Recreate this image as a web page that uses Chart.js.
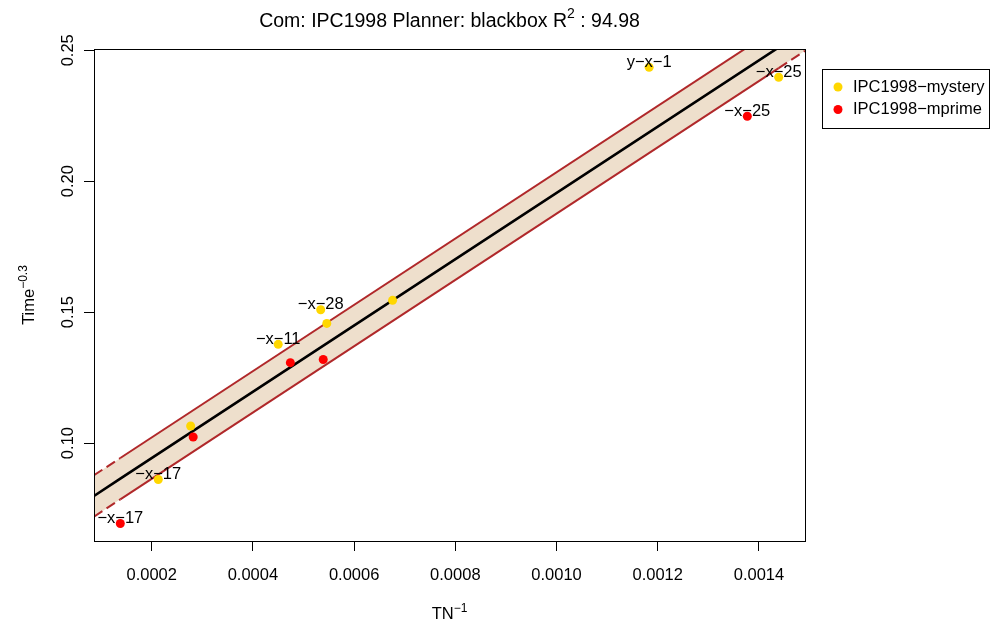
<html lang="en">
<head>
  <meta charset="UTF-8">
  <title>Chart</title>
  <script src="https://cdn.jsdelivr.net/npm/chart.js@4.4.1/dist/chart.umd.min.js"></script>
  <style>
    body { margin: 0; background: #fff; }
    .wrap { position: relative; width: 990px; height: 626px; }
  </style>
</head>
<body>

  <div class="wrap"><canvas id="chart" width="990" height="626"></canvas></div>

  <script>
    // values
    var mysteryX = [0.001183, 0.001439, 0.000676, 0.000546, 0.000534, 0.000450, 0.000277, 0.000213];
    var mysteryY = [0.2435, 0.2397, 0.1545, 0.1457, 0.1509, 0.1377, 0.1065, 0.0861];
    var mysteryLabels = ['y−x−1', '−x−25', '', '', '−x−28', '−x−11', '', '−x−17'];

    var mprimeX = [0.001377, 0.000474, 0.000539, 0.000282, 0.000138];
    var mprimeY = [0.2248, 0.1307, 0.1319, 0.1023, 0.0693];
    var mprimeLabels = ['−x−25', '', '', '', '−x−17'];

    // fitted line and band, at axis ends and data range ends
    var fitX = [0.000086, 0.000138, 0.001439, 0.001491];
    var fitY = [0.0798, 0.0864, 0.2511, 0.2577];
    var upperY = [0.0877, 0.0943, 0.2590, 0.2656];
    var lowerY = [0.0719, 0.0785, 0.2432, 0.2498];

    var xTickValues = [0.0002, 0.0004, 0.0006, 0.0008, 0.0010, 0.0012, 0.0014];
    var yTickValues = [0.10, 0.15, 0.20, 0.25];

    var seriesNames = ['IPC1998−mystery', 'IPC1998−mprime'];
    var seriesColors = ['#FFD700', '#FF0000'];

    var FONT = '"Liberation Sans", Arial, Helvetica, sans-serif';
    var BAND = '#EEDFCC', BROWN = '#B0282A';

    function pts(xs, ys){
      return xs.map(function(x, i){ return { x: x, y: ys[i] }; });
    }

    // dashed where the band is extrapolated past the data
    function outside(ctx){
      return ctx.p0DataIndex === 0 || ctx.p1DataIndex === fitX.length - 1 ? [10, 5] : undefined;
    }

    // draws text with superscript parts, centred on x
    function rich(ctx, parts, x, y, size, supSize){
      var w = 0;
      parts.forEach(function(p){
        ctx.font = (p.sup ? supSize : size) + 'px ' + FONT;
        p.w = ctx.measureText(p.t).width;
        w += p.w;
      });
      var cx = x - w / 2;
      parts.forEach(function(p){
        ctx.font = (p.sup ? supSize : size) + 'px ' + FONT;
        ctx.fillText(p.t, cx, p.sup ? y - size * 0.45 : y);
        cx += p.w;
      });
    }

    var decor = {
      id: 'decor',
      afterDatasetsDraw: function(chart){
        var ctx = chart.ctx;
        ctx.save();
        ctx.fillStyle = '#000';
        ctx.font = '16.5px ' + FONT;
        ctx.textAlign = 'center';
        ctx.textBaseline = 'middle';
        [[5, mysteryLabels], [6, mprimeLabels]].forEach(function(item){
          var meta = chart.getDatasetMeta(item[0]);
          meta.data.forEach(function(el, i){
            if (item[1][i]) ctx.fillText(item[1][i], el.x, el.y - 5);
          });
        });
        ctx.restore();
      },
      afterDraw: function(chart){
        var ctx = chart.ctx, a = chart.chartArea, y = chart.scales.y;
        var midX = (a.left + a.right) / 2, midY = (a.top + a.bottom) / 2;
        ctx.save();

        ctx.strokeStyle = '#000';
        ctx.lineWidth = 1;
        ctx.strokeRect(Math.round(a.left) + 0.5, Math.round(a.top) + 0.5, Math.round(a.right - a.left), Math.round(a.bottom - a.top));

        ctx.fillStyle = '#000';
        ctx.textAlign = 'left';
        ctx.textBaseline = 'alphabetic';

        // y tick labels, turned like R does
        ctx.font = '16.5px ' + FONT;
        yTickValues.forEach(function(v){
          ctx.save();
          ctx.translate(73, y.getPixelForValue(v));
          ctx.rotate(-Math.PI / 2);
          ctx.textAlign = 'center';
          ctx.fillText(v.toFixed(2), 0, 0);
          ctx.restore();
        });

        rich(ctx, [{ t: 'Com: IPC1998 Planner: blackbox R' }, { t: '2', sup: true }, { t: ' : 94.98' }], midX, 27, 19.5, 14);
        rich(ctx, [{ t: 'TN' }, { t: '−1', sup: true }], midX, 619, 16.5, 12);

        ctx.save();
        ctx.translate(34, midY);
        ctx.rotate(-Math.PI / 2);
        rich(ctx, [{ t: 'Time' }, { t: '−0.3', sup: true }], 0, 0, 16.5, 12);
        ctx.restore();

        // legend
        ctx.strokeRect(822.5, 69.5, 167, 59);
        ctx.font = '16.5px ' + FONT;
        ctx.textBaseline = 'middle';
        seriesNames.forEach(function(name, i){
          var ly = 87 + i * 22.5;
          ctx.beginPath();
          ctx.fillStyle = seriesColors[i];
          ctx.arc(838, ly, 4.5, 0, Math.PI * 2);
          ctx.fill();
          ctx.fillStyle = '#000';
          ctx.fillText(name, 853, ly);
        });

        ctx.restore();
      }
    };

    new Chart(document.getElementById('chart'), {
      type: 'scatter',
      data: {
        datasets: [
          { data: pts(fitX, upperY), showLine: true, borderWidth: 0, pointRadius: 0, order: 6 },
          { data: pts(fitX, lowerY), showLine: true, borderWidth: 0, pointRadius: 0, order: 5,
            fill: '-1', backgroundColor: BAND },
          { data: pts(fitX, upperY), showLine: true, borderColor: BROWN, borderWidth: 2, pointRadius: 0, order: 4,
            segment: { borderDash: outside } },
          { data: pts(fitX, lowerY), showLine: true, borderColor: BROWN, borderWidth: 2, pointRadius: 0, order: 3,
            segment: { borderDash: outside } },
          { data: pts(fitX, fitY), showLine: true, borderColor: '#000', borderWidth: 2.6, pointRadius: 0, order: 2 },
          { label: seriesNames[0], data: pts(mysteryX, mysteryY), backgroundColor: seriesColors[0], borderWidth: 0, pointRadius: 4.5, order: 1 },
          { label: seriesNames[1], data: pts(mprimeX, mprimeY), backgroundColor: seriesColors[1], borderWidth: 0, pointRadius: 4.5, order: 0 }
        ]
      },
      options: {
        responsive: false,
        animation: false,
        layout: { padding: { left: 0, top: 49, right: 185, bottom: 0 } },
        plugins: {
          legend: { display: false }, title: { display: false }, tooltip: { enabled: false },
          filler: { drawTime: 'beforeDatasetsDraw' }
        },
        scales: {
          x: {
            type: 'linear', min: 0.000086, max: 0.001491,
            afterBuildTicks: function(s){ s.ticks = xTickValues.map(function(v){ return { value: v }; }); },
            afterFit: function(s){ s.height = 85; },
            grid: { drawOnChartArea: false, drawTicks: true, tickLength: 10, color: '#000' },
            border: { color: '#000' },
            ticks: { color: '#000', font: { family: FONT, size: 16.5 }, padding: 15, maxRotation: 0, autoSkip: false,
              callback: function(v){ return v.toFixed(4); } }
          },
          y: {
            type: 'linear', min: 0.0626, max: 0.2505,
            afterBuildTicks: function(s){ s.ticks = yTickValues.map(function(v){ return { value: v }; }); },
            afterFit: function(s){ s.width = 94; },
            grid: { drawOnChartArea: false, drawTicks: true, tickLength: 10, color: '#000' },
            border: { color: '#000' },
            ticks: { display: false }
          }
        }
      },
      plugins: [decor]
    });
  </script>

</body>
</html>
